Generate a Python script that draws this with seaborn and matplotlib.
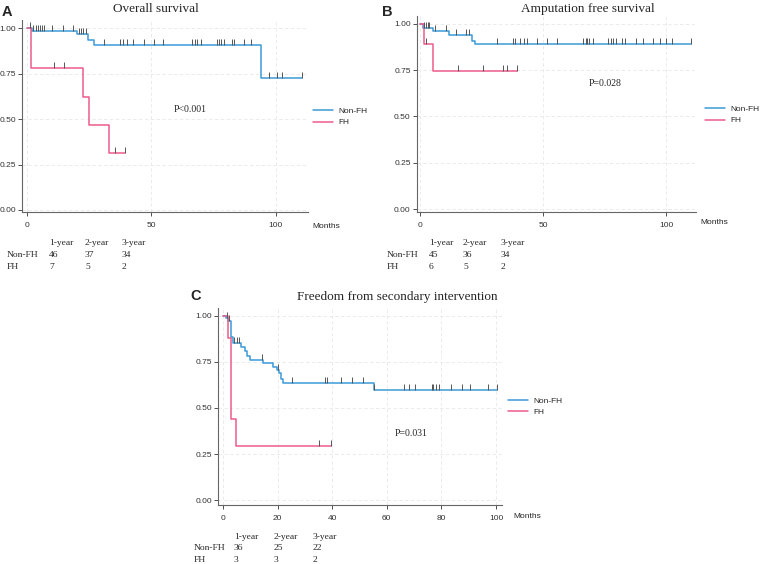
import numpy as np
import matplotlib
matplotlib.use('Agg')
import matplotlib.pyplot as plt
import seaborn as sns

# --- data ---
groups = ['Non-FH', 'FH']
years = ['1-year', '2-year', '3-year']

# A: overall survival
a_non_t = [0, 2.1, 20.0, 24.6, 27.0, 94.0, 110.6]
a_non_s = [1.0, 0.982, 0.965, 0.934, 0.907, 0.724, 0.724]
a_non_c = [1.2, 2.5, 3.5, 4.3, 5.2, 6.1, 6.9, 10.1, 14.5, 18.6, 20.9, 21.7, 22.6,
           23.6, 31.0, 37.3, 38.4, 40.0, 42.4, 47.1, 51.0, 54.7, 66.4, 67.5, 68.4,
           69.9, 76.2, 77.1, 77.9, 79.3, 82.5, 83.3, 87.3, 90.2, 97.3, 100.3, 102.5, 110.6]
a_fh_t = [0, 1.7, 22.6, 24.8, 32.9, 39.4]
a_fh_s = [1.0, 0.778, 0.622, 0.467, 0.311, 0.311]
a_fh_c = [11.0, 15.0, 35.3, 39.4]
a_risk = [[46, 37, 34], [7, 5, 2]]

# B: amputation free survival
b_non_t = [0, 1.4, 5.2, 11.9, 21.3, 22.4, 110.3]
b_non_s = [1.0, 0.978, 0.962, 0.94, 0.91, 0.89, 0.89]
b_non_c = [1.7, 2.4, 3.1, 3.8, 6.3, 10.4, 14.6, 18.7, 19.8, 31.4, 37.7, 38.6, 40.7,
           42.3, 43.4, 47.4, 51.5, 55.6, 66.4, 67.4, 68.0, 68.7, 70.4, 76.6, 77.6,
           78.6, 79.6, 82.2, 83.3, 87.7, 90.8, 94.6, 97.6, 100.0, 102.3, 110.3]
b_fh_t = [0, 1.75, 5.2, 39.6]
b_fh_s = [1.0, 0.89, 0.744, 0.744]
b_fh_c = [2.3, 15.6, 25.5, 33.6, 35.2, 39.6]
b_risk = [[45, 36, 34], [6, 5, 2]]

# C: freedom from secondary intervention
c_non_t = [0, 1.1, 1.9, 2.8, 3.8, 6.8, 8.0, 8.9, 9.9, 14.5, 18.3, 19.7, 20.4, 21.1,
           21.9, 55.2, 100.3]
c_non_s = [1.0, 0.99, 0.975, 0.886, 0.853, 0.83, 0.81, 0.785, 0.761, 0.743, 0.72,
           0.707, 0.689, 0.66, 0.634, 0.598, 0.598]
c_non_c = [1.4, 2.3, 4.1, 5.0, 5.9, 14.2, 20.3, 25.2, 37.4, 38.0, 43.1, 47.1, 51.2,
           55.3, 66.4, 68.2, 70.3, 76.4, 77.0, 77.9, 79.2, 83.4, 87.4, 90.5, 97.2, 100.3]
c_fh_t = [0, 1.7, 2.8, 4.9, 39.4]
c_fh_s = [1.0, 0.879, 0.439, 0.292, 0.292]
c_fh_c = [35.3, 39.4]
c_risk = [[36, 25, 22], [3, 3, 2]]

blue = '#3b9ad9'
pink = '#ef5b8c'

sns.set_style('white')
plt.rcParams['font.family'] = ['Liberation Sans', 'DejaVu Sans']
serif = ['Liberation Serif', 'DejaVu Serif']

W, H = 760, 564
fig = plt.figure(figsize=(W / 100, H / 100), dpi=100)


def px_axes(left, right, top, bottom):
    return fig.add_axes([left / W, 1 - bottom / H, (right - left) / W, (bottom - top) / H])


def ftext(x, y, s, **kw):
    fig.text(x / W, 1 - y / H, s, **kw)


def censor_y(t, s, c):
    idx = np.searchsorted(np.array(t), np.array(c), side='right') - 1
    return np.array(s)[np.clip(idx, 0, len(s) - 1)]


def km_panel(box, xlim, ylim, xticks, curves, legend_px):
    ax = px_axes(*box)
    for t, s, c, col, lab in curves:
        sns.lineplot(x=t, y=s, drawstyle='steps-post', estimator=None, color=col,
                     linewidth=1.1, label=lab, ax=ax)
        ax.plot(c, censor_y(t, s, c), linestyle='none', marker=2, markersize=4,
                markeredgewidth=0.7, color='#555555', zorder=3)
    ax.set_xlim(*xlim)
    ax.set_ylim(*ylim)
    ax.set_xticks(xticks)
    ax.set_yticks([0, 0.25, 0.5, 0.75, 1.0])
    ax.set_yticklabels(['0.00', '0.25', '0.50', '0.75', '1.00'])
    ax.set_xlabel('')
    ax.set_ylabel('')
    ax.grid(True, color='#e8e8e8', linestyle=(0, (4, 3)), linewidth=0.6)
    for side in ['top', 'right']:
        ax.spines[side].set_visible(False)
    for side in ['left', 'bottom']:
        ax.spines[side].set_color('#666666')
        ax.spines[side].set_linewidth(0.8)
    ax.tick_params(axis='both', labelsize=6.0, colors='#333333', length=3,
                   width=0.6, direction='out', left=True, bottom=True)
    ax.tick_params(axis='x', pad=4)
    ax.tick_params(axis='y', pad=1.5)
    lx, ly = legend_px
    ax.legend(loc='upper left', bbox_to_anchor=(lx / W, 1 - ly / H),
              bbox_transform=fig.transFigure, frameon=False, fontsize=6,
              handlelength=2.4, handletextpad=0.6, labelspacing=0.45,
              borderpad=0, borderaxespad=0)
    return ax


def risk_table(label_x, cols_x, y_rows, risk):
    for x, yr in zip(cols_x, years):
        ftext(x, y_rows[0], yr, family=serif, fontsize=6.8, va='center')
    for g, row, y in zip(groups, risk, y_rows[1:]):
        ftext(label_x, y, g, family=serif, fontsize=6.8, va='center')
        for x, v in zip(cols_x, row):
            ftext(x, y, str(v), family=serif, fontsize=6.8, va='center')


# Panel A
km_panel((22, 308, 20, 212), (-2.0, 112.9), (-0.011, 1.044), [0, 50, 100],
         [(a_non_t, a_non_s, a_non_c, blue, 'Non-FH'),
          (a_fh_t, a_fh_s, a_fh_c, pink, 'FH')], (313, 107))
ftext(2, 5, 'A', fontsize=10.5, fontweight='bold', va='top')
ftext(156, 9, 'Overall survival', family=serif, fontsize=9.5, ha='center', va='center')
ftext(190, 109, 'P<0.001', family=serif, fontsize=7, ha='center', va='center')
ftext(312, 226, 'Months', fontsize=6, va='center')
risk_table(7, [49, 85, 122], [243, 255, 267], a_risk)

# Panel B
km_panel((417, 696, 16, 212), (-1.2, 112.2), (-0.016, 1.043), [0, 50, 100],
         [(b_non_t, b_non_s, b_non_c, blue, 'Non-FH'),
          (b_fh_t, b_fh_s, b_fh_c, pink, 'FH')], (705, 105))
ftext(382, 5, 'B', fontsize=10.5, fontweight='bold', va='top')
ftext(588, 9, 'Amputation free survival', family=serif, fontsize=9.5, ha='center', va='center')
ftext(605, 84, 'P=0.028', family=serif, fontsize=7, ha='center', va='center')
ftext(700, 222, 'Months', fontsize=6, va='center')
risk_table(387, [429, 463, 501], [243, 255, 267], b_risk)

# Panel C
km_panel((218, 502, 308, 505), (-1.8, 102.2), (-0.027, 1.043), [0, 20, 40, 60, 80, 100],
         [(c_non_t, c_non_s, c_non_c, blue, 'Non-FH'),
          (c_fh_t, c_fh_s, c_fh_c, pink, 'FH')], (508, 397))
ftext(190, 289, 'C', fontsize=10.5, fontweight='bold', va='top')
ftext(397, 297, 'Freedom from secondary intervention', family=serif, fontsize=9.5,
      ha='center', va='center')
ftext(411, 434, 'P=0.031', family=serif, fontsize=7, ha='center', va='center')
ftext(513, 516, 'Months', fontsize=6, va='center')
risk_table(194, [234, 274, 313], [537, 548, 560], c_risk)

fig.savefig('out.png', dpi=100)
